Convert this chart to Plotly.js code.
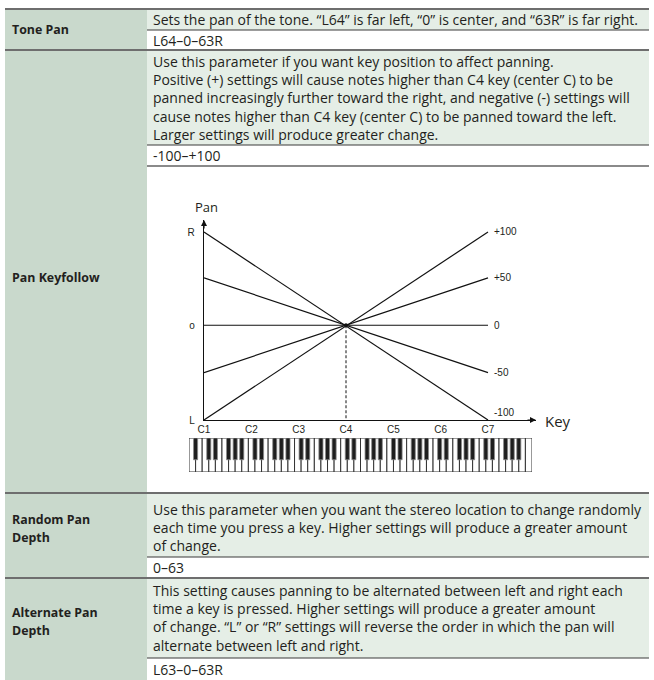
<!DOCTYPE html>
<html>
<head>
<meta charset="utf-8">
<script src="https://cdn.plot.ly/plotly-3.0.1.min.js"></script>
<style>html,body{margin:0;padding:0;background:#fff;}#chart{width:654px;height:680px;}</style>
</head>
<body>
<div id="chart"></div>
<script>
// ---------------- data ----------------
const paramNames = ['Tone Pan', 'Pan Keyfollow', 'Random Pan|Depth', 'Alternate Pan|Depth'];
const descTone = ['Sets the pan of the tone. \u201cL64\u201d is far left, \u201c0\u201d is center, and \u201c63R\u201d is far right.'];
const descKeyfollow = [
  'Use this parameter if you want key position to affect panning.',
  'Positive (+) settings will cause notes higher than C4 key (center C) to be',
  'panned increasingly further toward the right, and negative (-) settings will',
  'cause notes higher than C4 key (center C) to be panned toward the left.',
  'Larger settings will produce greater change.'
];
const descRandom = [
  'Use this parameter when you want the stereo location to change randomly',
  'each time you press a key. Higher settings will produce a greater amount',
  'of change.'
];
const descAlternate = [
  'This setting causes panning to be alternated between left and right each',
  'time a key is pressed. Higher settings will produce a greater amount',
  'of change. \u201cL\u201d or \u201cR\u201d settings will reverse the order in which the pan will',
  'alternate between left and right.'
];
const valueRanges = ['L64\u20130\u201363R', '-100\u2013+100', '0\u201363', 'L63\u20130\u201363R'];

const keyNames = ['C1', 'C2', 'C3', 'C4', 'C5', 'C6', 'C7'];
const keyNotes = [24, 36, 48, 60, 72, 84, 96];
const panTickText = ['L', 'o', 'R'];
const panTickVals = [-64, 0, 63];
const settingLabels = ['+100', '+50', '0', '-50', '-100'];
const panAtC1 = [-64, -32, 0, 32, 63];
const panAtC7 = [63, 32, 0, -32, -64];
const centerKey = 60;
const noteIsBlack = [0,1,0,1,0,0,1,0,1,0,1,0]; // C C# D D# E F F# G G# A A# B
const lowestNote = 21, highestNote = 108;

// ---------------- geometry helpers ----------------
const W = 654, H = 680;
const px = x => x / W;
const py = y => 1 - y / H;

const FONT = '"Open Sans", Lato, sans-serif';
const ARIAL = '"Liberation Sans", Arial, sans-serif';
const TXT = '#231f20';
const DESC_SIZE = 14;        // Plotly line spacing 1.3em -> ~18px
const lineGap = DESC_SIZE * 1.3;

// table layout (pixel positions)
const tblL = 5, tblR = 649, colX = 147;
const descBlocks = [
  {lines: descTone, top: 9, bottom: 30, firstY: 19.5, valueY: 40.5},
  {lines: descKeyfollow, top: 50, bottom: 145, firstY: 62, valueY: 155.5},
  {lines: descRandom, top: 493, bottom: 557, firstY: 509, valueY: 567.5},
  {lines: descAlternate, top: 578, bottom: 658, firstY: 591, valueY: 669}
];
const labelY = [[29.5], [277], [519, 537], [612, 630]];

const shapes = [];
const annotations = [];

// left column background
shapes.push({type: 'rect', xref: 'paper', yref: 'paper', layer: 'below',
  x0: px(tblL), x1: px(colX), y0: py(9), y1: py(H + 5), fillcolor: '#c9d9cc', line: {width: 0}});

descBlocks.forEach((b, i) => {
  shapes.push({type: 'rect', xref: 'paper', yref: 'paper', layer: 'below',
    x0: px(colX), x1: px(tblR), y0: py(b.top), y1: py(b.bottom), fillcolor: '#e5eee6', line: {width: 0}});
  shapes.push({type: 'line', xref: 'paper', yref: 'paper', layer: 'below',
    x0: px(colX), x1: px(tblR), y0: py(b.bottom), y1: py(b.bottom), line: {color: '#3a3a3a', width: 1}});
  shapes.push({type: 'line', xref: 'paper', yref: 'paper', layer: 'below',
    x0: px(tblL), x1: px(tblR), y0: py(b.top), y1: py(b.top), line: {color: '#6e6e6e', width: 2}});
  const n = b.lines.length;
  annotations.push({xref: 'paper', yref: 'paper', x: px(151), y: py(b.firstY + (n - 1) * lineGap / 2),
    xanchor: 'left', yanchor: 'middle', align: 'left', showarrow: false, text: b.lines.join('<br>'),
    font: {family: FONT, size: DESC_SIZE, color: TXT}});
  annotations.push({xref: 'paper', yref: 'paper', x: px(151), y: py(b.valueY),
    xanchor: 'left', yanchor: 'middle', showarrow: false, text: valueRanges[i],
    font: {family: FONT, size: DESC_SIZE, color: TXT}});
  paramNames[i].split('|').forEach((t, j) => {
    annotations.push({xref: 'paper', yref: 'paper', x: px(10), y: py(labelY[i][j]),
      xanchor: 'left', yanchor: 'middle', showarrow: false, text: '<b>' + t + '</b>',
      font: {family: FONT, size: 12.4, color: TXT}});
  });
});
shapes.push({type: 'line', xref: 'paper', yref: 'paper', layer: 'below',
  x0: px(colX), x1: px(tblR), y0: py(166), y1: py(166), line: {color: '#8a8a8a', width: 2}});

// ---------------- chart traces ----------------
const traces = [];
settingLabels.forEach((lab, i) => {
  traces.push({type: 'scatter', mode: 'lines', x: [keyNotes[0], keyNotes[keyNotes.length - 1]],
    y: [panAtC1[i], panAtC7[i]], line: {color: '#111', width: 1.2}, hoverinfo: 'skip', xaxis: 'x', yaxis: 'y'});
  annotations.push({xref: 'x', yref: 'y', x: keyNotes[keyNotes.length - 1], y: panAtC7[i],
    xanchor: 'left', yanchor: 'middle', xshift: 4, yshift: (panAtC7[i] === panTickVals[0] ? 8 : 0),
    showarrow: false, text: lab, font: {family: ARIAL, size: 10, color: TXT}});
});
traces.push({type: 'scatter', mode: 'lines', x: [centerKey, centerKey], y: [0, panTickVals[0]],
  line: {color: '#111', width: 1, dash: '3px,2px'}, hoverinfo: 'skip', xaxis: 'x', yaxis: 'y'});
traces.push({type: 'scatter', mode: 'markers', x: [centerKey], y: [0],
  marker: {color: '#111', size: 4}, hoverinfo: 'skip', xaxis: 'x', yaxis: 'y'});

// keyboard
const whiteX = [], blackX = [];
let wIdx = 0;
for (let n = lowestNote; n <= highestNote; n++) {
  if (noteIsBlack[n % 12]) { blackX.push(wIdx); }
  else { whiteX.push(wIdx + 0.5); wIdx++; }
}
traces.push({type: 'bar', x: whiteX, y: whiteX.map(() => 1), base: 0, width: 1,
  marker: {color: '#ffffff', line: {color: '#333', width: 1}}, xaxis: 'x2', yaxis: 'y2', hoverinfo: 'skip'});
traces.push({type: 'bar', x: blackX, y: blackX.map(() => 0.64), base: 0.36, width: 0.62,
  marker: {color: '#1e1e1e', line: {color: '#8a8a8a', width: 0.8}}, xaxis: 'x2', yaxis: 'y2', hoverinfo: 'skip'});

// axis arrows and titles
const xTip = 24 + (536 - 204) * 72 / (488 - 204);
const yTop = 63 + (232 - 220) * 127 / (420 - 232);
annotations.push({xref: 'x', yref: 'y', x: xTip, y: panTickVals[0], ax: -10, ay: 0, text: '',
  showarrow: true, arrowhead: 2, arrowsize: 1, arrowwidth: 1.2, arrowcolor: '#111', standoff: 0});
annotations.push({xref: 'x', yref: 'y', x: keyNotes[0], y: yTop, ax: 0, ay: 10, text: '',
  showarrow: true, arrowhead: 2, arrowsize: 1, arrowwidth: 1.2, arrowcolor: '#111', standoff: 0});
annotations.push({xref: 'paper', yref: 'paper', x: px(193), y: py(207), xanchor: 'left', yanchor: 'middle',
  showarrow: false, text: 'Pan', font: {family: FONT, size: 13, color: TXT}});
annotations.push({xref: 'paper', yref: 'paper', x: px(543), y: py(421), xanchor: 'left', yanchor: 'middle',
  showarrow: false, text: 'Key', font: {family: FONT, size: 15, color: TXT}});

const layout = {
  width: W, height: H,
  margin: {l: 0, r: 0, t: 0, b: 0},
  paper_bgcolor: '#fff', plot_bgcolor: 'rgba(0,0,0,0)',
  showlegend: false, barmode: 'overlay',
  xaxis: {domain: [px(204), px(536)], range: [24, xTip], showline: true, linecolor: '#111', linewidth: 1.2,
    showgrid: false, zeroline: false, tickvals: keyNotes, ticktext: keyNames, ticks: '',
    tickfont: {family: ARIAL, size: 10, color: TXT}, fixedrange: true, anchor: 'y'},
  yaxis: {domain: [py(420), py(220)], range: [-64, yTop], showline: true, linecolor: '#111', linewidth: 1.2,
    showgrid: false, zeroline: false, tickvals: panTickVals, ticktext: panTickText, ticks: '',
    tickfont: {family: ARIAL, size: 10, color: TXT}, fixedrange: true, anchor: 'x', ticklabelstandoff: 6},
  xaxis2: {domain: [px(189), px(532)], range: [0, whiteX.length], visible: false, anchor: 'y2', fixedrange: true},
  yaxis2: {domain: [py(472), py(438)], range: [0, 1], visible: false, anchor: 'x2', fixedrange: true},
  shapes: shapes,
  annotations: annotations
};

Plotly.newPlot('chart', traces, layout, {displayModeBar: false, staticPlot: true});
</script>
</body>
</html>
